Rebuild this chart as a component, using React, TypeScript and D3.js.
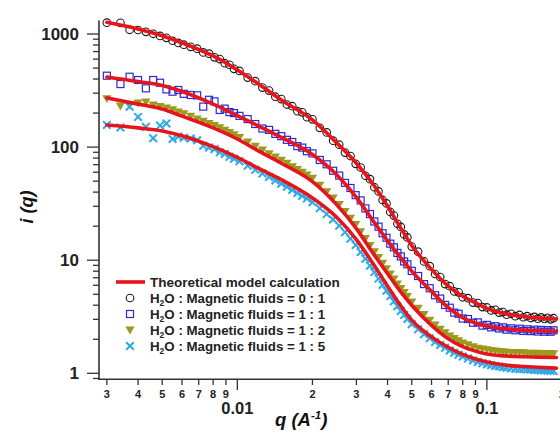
import React from 'react';
import * as d3 from 'd3';

// ---------- data ----------
const Q = [
  0.0030, 0.0034, 0.0037, 0.0040, 0.0043, 0.0046, 0.0049, 0.0052, 0.0055, 0.0058,
  0.0061, 0.0065, 0.0069, 0.0073, 0.0077, 0.0081, 0.0085, 0.0089, 0.0093, 0.0097,
  0.0102, 0.0110, 0.0118, 0.0126, 0.0134, 0.0142, 0.0150, 0.0158, 0.0166, 0.0174,
  0.0182, 0.0190, 0.0200, 0.0214, 0.0228, 0.0242, 0.0256, 0.0270, 0.0284, 0.0298,
  0.0312, 0.0326, 0.0340, 0.0354, 0.0368, 0.0382, 0.0396, 0.0410, 0.0424, 0.0438,
  0.0452, 0.0466, 0.0480, 0.0500, 0.0530, 0.0560, 0.0590, 0.0620, 0.0650, 0.0680,
  0.0710, 0.0740, 0.0770, 0.0800, 0.0840, 0.0880, 0.0920, 0.0960, 0.1000, 0.1040,
  0.1080, 0.1120, 0.1160, 0.1200, 0.1250, 0.1300, 0.1350, 0.1400, 0.1450, 0.1500,
  0.1550, 0.1600, 0.1650, 0.1700, 0.1750, 0.1800, 0.1850,
];

const DATA_0_1 = [
  1260, 1255, 1090, 1085, 1045, 1005, 962, 925, 872, 835,
  805, 770, 742, 688, 670, 622, 600, 552, 535, 492,
  472, 412, 383, 336, 316, 279, 266, 238, 230, 208,
  203, 184, 176, 148, 135, 114, 105, 89.5, 83.4, 71.2,
  66.0, 55.8, 52.1, 44.2, 40.6, 34.1, 31.8, 26.7, 24.8, 21.0,
  19.7, 16.9, 15.9, 13.2, 11.9, 9.75, 8.86, 7.55, 7.10, 6.15,
  5.89, 5.30, 5.20, 4.70, 4.62, 4.22, 4.18, 3.85, 3.82, 3.60,
  3.64, 3.44, 3.48, 3.30, 3.36, 3.20, 3.28, 3.13, 3.20, 3.08,
  3.15, 3.04, 3.12, 3.02, 3.10, 3.00, 3.07,
];

const DATA_1_1 = [
  428, 361, 419, 392, 331, 392, 371, 324, 309, 320,
  296, 289, 287, 228, 262, 254, 213, 219, 204, 200,
  189, 177, 160, 146, 142, 131, 125, 116, 111, 102,
  99, 92, 88, 77, 70.5, 61.8, 56.0, 48.3, 43.5, 37.6,
  33.8, 28.7, 25.6, 22.0, 19.8, 17.3, 15.8, 14.0, 13.0, 11.6,
  10.8, 9.75, 9.20, 8.05, 7.25, 6.15, 5.65, 4.90, 4.58, 4.02,
  3.80, 3.44, 3.36, 3.05, 3.02, 2.80, 2.82, 2.64, 2.68, 2.55,
  2.61, 2.49, 2.55, 2.43, 2.50, 2.40, 2.48, 2.37, 2.45, 2.36,
  2.43, 2.34, 2.42, 2.33, 2.41, 2.33, 2.40,
];

const DATA_1_2 = [
  268, 231, 238, 246, 251, 236, 229, 222, 214, 205,
  198, 188, 178, 170, 162, 156, 149, 141, 135, 129,
  122, 111, 102, 94.5, 87.5, 82.0, 76.5, 72.0, 67.3, 63.5,
  60.0, 56.8, 53.2, 46.2, 40.4, 35.6, 31.2, 27.0, 23.6, 20.7,
  17.9, 15.6, 13.5, 11.9, 10.6, 9.40, 8.42, 7.55, 6.82, 6.17,
  5.62, 5.18, 4.78, 4.28, 3.76, 3.32, 2.95, 2.68, 2.46, 2.29,
  2.14, 2.03, 1.94, 1.86, 1.79, 1.72, 1.67, 1.64, 1.62, 1.59,
  1.58, 1.56, 1.55, 1.54, 1.53, 1.53, 1.52, 1.52, 1.51, 1.51,
  1.50, 1.51, 1.50, 1.50, 1.49, 1.50, 1.49,
];

const DATA_1_5 = [
  157, 149, 228, 185, 151, 120, 155, 162, 118, 124,
  121, 119, 115, 103, 99, 96, 90, 87, 82, 79,
  75, 68.5, 63.0, 58.5, 54.5, 50.8, 47.5, 44.6, 41.8, 39.3,
  37.0, 35.1, 32.6, 28.8, 25.6, 22.9, 20.2, 17.7, 15.5, 13.6,
  11.8, 10.3, 8.95, 7.85, 6.88, 6.05, 5.38, 4.82, 4.33, 3.92,
  3.56, 3.28, 3.02, 2.72, 2.45, 2.22, 2.04, 1.89, 1.78, 1.68,
  1.59, 1.52, 1.46, 1.41, 1.35, 1.30, 1.26, 1.23, 1.20, 1.18,
  1.16, 1.15, 1.13, 1.12, 1.11, 1.10, 1.09, 1.09, 1.08, 1.08,
  1.07, 1.07, 1.06, 1.06, 1.06, 1.05, 1.05,
];

// theoretical model curves
const FIT_Q = [
  0.003, 0.004, 0.005, 0.006, 0.008, 0.01, 0.012, 0.015, 0.02, 0.025, 0.03, 0.035,
  0.04, 0.045, 0.05, 0.06, 0.07, 0.08, 0.09, 0.1, 0.12, 0.14, 0.16, 0.19,
];
const FIT_0_1 = [1270, 1110, 965, 835, 640, 481, 369, 261, 174, 109, 72, 47, 30, 19.5, 13.5, 8.3, 5.9, 4.8, 4.2, 3.75, 3.35, 3.18, 3.08, 3.02];
const FIT_1_1 = [417, 380, 350, 310, 240, 190, 156, 122, 86, 57, 36, 22.3, 14.8, 10.6, 8.0, 5.3, 3.8, 3.1, 2.78, 2.62, 2.47, 2.41, 2.38, 2.36];
const FIT_1_2 = [272, 240, 217, 188, 148, 118, 94, 72, 49.5, 31, 19, 11.5, 7.6, 5.3, 4.0, 2.65, 2.02, 1.72, 1.57, 1.48, 1.42, 1.40, 1.39, 1.38];
const FIT_1_5 = [157, 148, 139, 126, 101, 81, 66, 51.5, 35.5, 24, 15.2, 9.3, 5.9, 4.0, 2.95, 2.1, 1.7, 1.47, 1.34, 1.26, 1.18, 1.15, 1.13, 1.11];

const LEGEND_MODEL = 'Theoretical model calculation';
const LEGEND_RATIOS = ['0 : 1', '1 : 1', '1 : 2', '1 : 5'];

// ---------- layout ----------
const W = 560;
const H = 433;
const FONT = "Arial, 'Liberation Sans', Helvetica, sans-serif";
const RED = '#e8141b';
const C_BLACK = '#1c1c1c';
const C_BLUE = '#2a2ad2';
const C_OLIVE = '#9c9a1e';
const C_CYAN = '#2ea9e8';
const AXIS = '#333';

const x = d3.scaleLog().domain([0.00279, 0.2]).range([99, 562]);
const y = d3.scaleLog().domain([0.885, 1280]).range([379.3, 21.9]);

type MarkerKind = 'circle' | 'square' | 'tri' | 'x';

function Marker({ kind, cx, cy }: { kind: MarkerKind; cx: number; cy: number }) {
  if (kind === 'circle')
    return <circle cx={cx} cy={cy} r={3.8} fill="none" stroke={C_BLACK} strokeWidth={1.1} />;
  if (kind === 'square')
    return <rect x={cx - 3.5} y={cy - 3.5} width={7} height={7} fill="none" stroke={C_BLUE} strokeWidth={1.2} />;
  if (kind === 'tri')
    return <path d={`M${cx - 4.6},${cy - 3.4}L${cx + 4.6},${cy - 3.4}L${cx},${cy + 4.4}Z`} fill={C_OLIVE} />;
  return (
    <path
      d={`M${cx - 3.8},${cy - 3.8}L${cx + 3.8},${cy + 3.8}M${cx - 3.8},${cy + 3.8}L${cx + 3.8},${cy - 3.8}`}
      stroke={C_CYAN}
      strokeWidth={2}
      fill="none"
    />
  );
}

const SERIES: { data: number[]; fit: number[]; kind: MarkerKind }[] = [
  { data: DATA_0_1, fit: FIT_0_1, kind: 'circle' },
  { data: DATA_1_1, fit: FIT_1_1, kind: 'square' },
  { data: DATA_1_2, fit: FIT_1_2, kind: 'tri' },
  { data: DATA_1_5, fit: FIT_1_5, kind: 'x' },
];

const line = d3
  .line<[number, number]>()
  .x((d) => x(d[0]))
  .y((d) => y(d[1]))
  .curve(d3.curveMonotoneX);

export default function App() {
  const xTicks = x.ticks();
  const yTicks = y.ticks();
  const isMajor = (v: number) => Math.abs(Math.log10(v) - Math.round(Math.log10(v))) < 1e-6;
  const lead = (v: number) => Math.round(v / Math.pow(10, Math.floor(Math.log10(v) + 1e-9)));

  return (
    <svg
      width={W}
      height={H}
      viewBox={`0 0 ${W} ${H}`}
      style={{ position: 'absolute', left: 0, top: 0, background: '#fff' }}
      fontFamily={FONT}
    >
      <rect x={0} y={0} width={W} height={H} fill="#fff" />

      {/* scatter */}
      {SERIES.map((s, si) => (
        <g key={si}>
          {Q.map((q, i) => (
            <Marker key={i} kind={s.kind} cx={x(q)} cy={y(s.data[i])} />
          ))}
        </g>
      ))}

      {/* model curves */}
      {SERIES.map((s, si) => (
        <path
          key={si}
          d={line(FIT_Q.map((q, i) => [q, s.fit[i]] as [number, number])) || ''}
          fill="none"
          stroke={RED}
          strokeWidth={3.6}
          strokeLinecap="round"
        />
      ))}

      {/* axes */}
      <line x1={99} y1={20.5} x2={99} y2={380} stroke={AXIS} strokeWidth={1.6} />
      <line x1={98.2} y1={379.3} x2={562} y2={379.3} stroke={AXIS} strokeWidth={1.6} />

      {yTicks.map((v, i) => {
        const major = isMajor(v);
        const yy = y(v);
        return (
          <g key={i}>
            <line x1={major ? 87 : 93} x2={99} y1={yy} y2={yy} stroke={AXIS} strokeWidth={1.3} />
            {major && (
              <text x={79} y={yy + 6} textAnchor="end" fontSize={17} fontWeight="bold" fill="#222">
                {String(v)}
              </text>
            )}
          </g>
        );
      })}

      {xTicks.map((v, i) => {
        const major = isMajor(v);
        const xx = x(v);
        return (
          <g key={i}>
            <line x1={xx} x2={xx} y1={379.3} y2={major ? 390 : 385} stroke={AXIS} strokeWidth={1.3} />
            {major ? (
              <text x={xx} y={414} textAnchor="middle" fontSize={16.5} fontWeight="bold" fill="#222">
                {String(v)}
              </text>
            ) : (
              <text x={xx} y={397.5} textAnchor="middle" fontSize={11} fontWeight="bold" fill="#222">
                {String(lead(v))}
              </text>
            )}
          </g>
        );
      })}

      {/* axis titles */}
      <text x={275} y={426} fontSize={18.5} fontWeight="bold" fontStyle="italic" fill="#111">
        q (A
        <tspan fontSize={11.5} dy={-7}>-1</tspan>
        <tspan dy={7}>)</tspan>
      </text>
      <text
        transform="translate(33,207) rotate(-90)"
        textAnchor="middle"
        fontSize={18}
        fontWeight="bold"
        fontStyle="italic"
        fill="#111"
      >
        i (q)
      </text>

      {/* legend */}
      <line x1={116} x2={145} y1={282} y2={282} stroke={RED} strokeWidth={3.6} />
      <text x={150} y={286.5} fontSize={13.5} fontWeight="bold" fill="#222">
        {LEGEND_MODEL}
      </text>
      {SERIES.map((s, i) => {
        const yy = 298 + i * 16;
        return (
          <g key={i}>
            <Marker kind={s.kind} cx={130} cy={yy} />
            <text x={150} y={yy + 5} fontSize={13.3} fontWeight="bold" fill="#222">
              H
              <tspan fontSize={8.5} dy={3}>2</tspan>
              <tspan dy={-3}>{`O : Magnetic fluids = ${LEGEND_RATIOS[i]}`}</tspan>
            </text>
          </g>
        );
      })}
    </svg>
  );
}
